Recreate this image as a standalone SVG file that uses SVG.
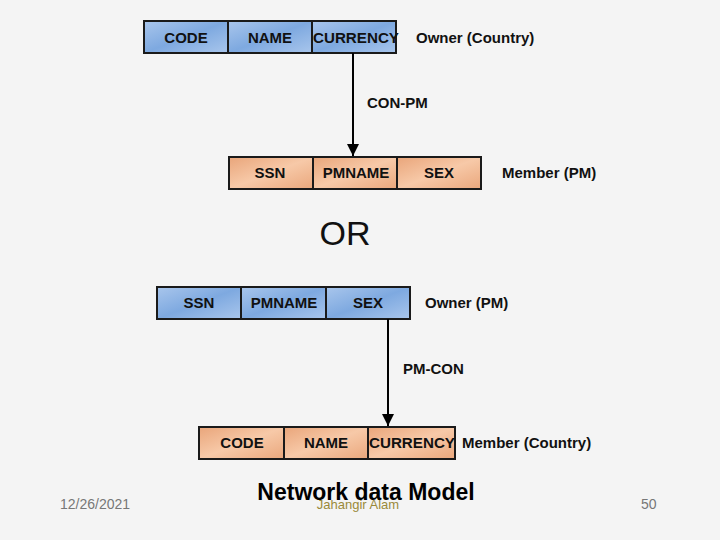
<svg xmlns="http://www.w3.org/2000/svg" width="720" height="540" viewBox="0 0 720 540">
<defs>
<linearGradient id="blue" x1="0" y1="0" x2="1" y2="1"><stop offset="0" stop-color="#a9c6ec"/><stop offset="0.5" stop-color="#7ea9e0"/><stop offset="1" stop-color="#a9c6ec"/></linearGradient>
<linearGradient id="orange" x1="0" y1="0" x2="1" y2="1"><stop offset="0" stop-color="#e9a57a"/><stop offset="0.5" stop-color="#f7c9a8"/><stop offset="1" stop-color="#eaa77c"/></linearGradient>
<marker id="ah" viewBox="0 0 10 10" refX="10" refY="5" markerWidth="6" markerHeight="6" orient="auto"><path d="M0,0 L10,5 L0,10 z" fill="#000"/></marker>
</defs>
<style>
.b{fill:url(#blue);stroke:#1a1a1a;stroke-width:2}
.o{fill:url(#orange);stroke:#1a1a1a;stroke-width:2}
.c{font-family:"Liberation Sans",Arial,sans-serif;font-weight:bold;font-size:15px;fill:#111;text-anchor:middle}
.l{font-family:"Liberation Sans",Arial,sans-serif;font-weight:bold;font-size:15px;fill:#111}
.f{font-family:"Liberation Sans",Arial,sans-serif;font-size:14px;fill:#777}
</style>
<rect width="720" height="540" fill="#f4f4f4"/>
<g id="owner-country">
<rect class="b" x="144" y="21" width="84" height="32"/><rect class="b" x="228" y="21" width="84" height="32"/><rect class="b" x="312" y="21" width="84" height="32"/>
<text class="c" x="186" y="43">CODE</text><text class="c" x="270" y="43">NAME</text><text class="c" x="356" y="43" textLength="86" lengthAdjust="spacingAndGlyphs">CURRENCY</text>
<text class="l" x="416" y="43">Owner (Country)</text>
</g>
<g id="member-pm">
<rect class="o" x="229" y="157" width="84" height="32"/><rect class="o" x="313" y="157" width="84" height="32"/><rect class="o" x="397" y="157" width="84" height="32"/>
<text class="c" x="270" y="178">SSN</text><text class="c" x="356" y="178">PMNAME</text><text class="c" x="439" y="178">SEX</text>
<text class="l" x="502" y="178">Member (PM)</text>
</g>
<g id="owner-pm">
<rect class="b" x="157" y="287" width="84" height="32"/><rect class="b" x="241" y="287" width="85" height="32"/><rect class="b" x="326" y="287" width="84" height="32"/>
<text class="c" x="199" y="308">SSN</text><text class="c" x="284" y="308">PMNAME</text><text class="c" x="368" y="308">SEX</text>
<text class="l" x="425" y="308">Owner (PM)</text>
</g>
<g id="member-country">
<rect class="o" x="199" y="427" width="85" height="32"/><rect class="o" x="284" y="427" width="84" height="32"/><rect class="o" x="368" y="427" width="87" height="32"/>
<text class="c" x="242" y="448">CODE</text><text class="c" x="326" y="448">NAME</text><text class="c" x="412" y="448" textLength="86" lengthAdjust="spacingAndGlyphs">CURRENCY</text>
<text class="l" x="462" y="448">Member (Country)</text>
</g>
<g id="connectors" stroke="#000" stroke-width="2" fill="none">
<line x1="353" y1="53" x2="353" y2="156" marker-end="url(#ah)"/>
<line x1="388" y1="319" x2="388" y2="426" marker-end="url(#ah)"/>
</g>
<text class="l" x="367" y="108" font-size="16">CON-PM</text>
<text class="l" x="403" y="374" font-size="16">PM-CON</text>
<text x="345" y="245" font-family="Liberation Sans,Arial,sans-serif" font-size="34" fill="#111" text-anchor="middle">OR</text>
<text x="366" y="500" font-family="Liberation Sans,Arial,sans-serif" font-size="23" font-weight="bold" fill="#000" text-anchor="middle">Network data Model</text>
<text x="358" y="509" font-family="Liberation Sans,Arial,sans-serif" font-size="13" fill="#9a8a3a" text-anchor="middle">Jahangir Alam</text>
<text class="f" x="60" y="509">12/26/2021</text>
<text class="f" x="641" y="509">50</text>
</svg>
